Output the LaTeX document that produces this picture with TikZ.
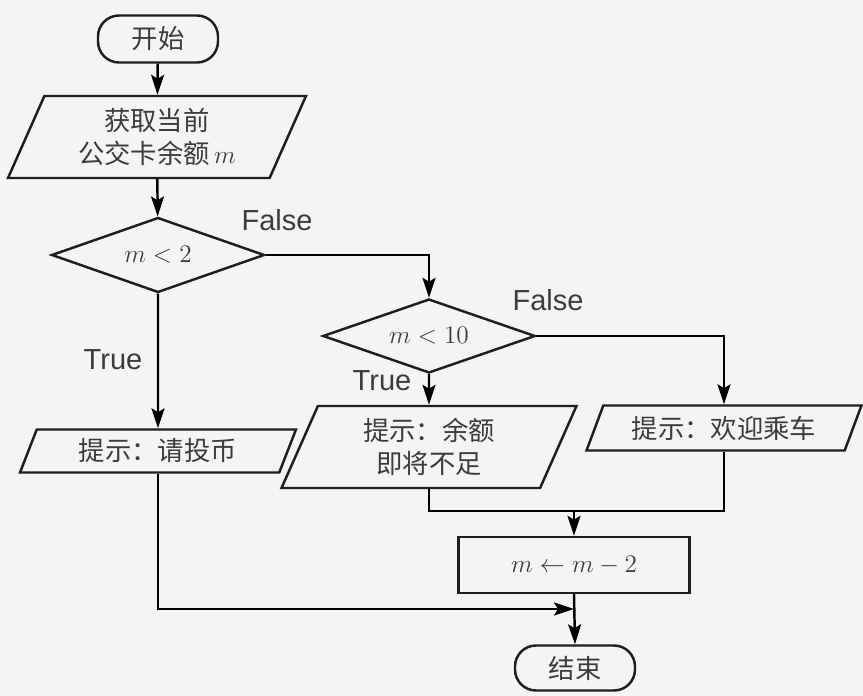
\documentclass[tikz,border=0pt]{standalone}
\usepackage{fontspec}
\newfontfamily\cjk{Noto Sans CJK SC}
\newfontfamily\lat{Liberation Sans}
\usetikzlibrary{shapes.geometric,arrows.meta}

\begin{document}
\begin{tikzpicture}[x=0.02cm, y=-0.02cm, line width=1.4pt,
	arr/.style={-{Stealth[length=4mm, width=2.6mm, inset=0.8mm]}},
	box/.style={draw=ink, text=txt, align=center, inner sep=1pt, font=\cjk\fontsize{15}{18.5}\selectfont},
	term/.style={box, rounded corners=0.42cm, minimum width=2.4cm, minimum height=0.94cm},
	io/.style={box, trapezium, trapezium left angle=59, trapezium right angle=121, trapezium stretches body},
	cond/.style={box, diamond, aspect=2.85, inner sep=0pt, minimum width=4.26cm, minimum height=1.5cm},
	proc/.style={box, minimum width=4.62cm, minimum height=1.12cm},
	lbl/.style={text=txt, font=\lat\fontsize{16.5}{20}\selectfont}]
	\definecolor{bgcol}{RGB}{243, 244, 246}
	\definecolor{ink}{RGB}{30, 30, 30}
	\definecolor{txt}{RGB}{60, 60, 60}

	% background
	\fill[bgcol] (0, 0) rectangle (863, 696);
	\useasboundingbox (0, 0) rectangle (863, 696);

	% diagram
	\node[term] (start) at (158, 39) {开始};
	\node[io, minimum width=5.96cm, minimum height=1.64cm] (input) at (157, 137) {获取当前\\公交卡余额\,$m$};
	\node[cond] (lt2) at (158, 255) {$m<2$};
	\node[cond, minimum width=4.25cm, minimum height=1.48cm] (lt10) at (429, 336) {$m<10$};
	\node[io, minimum width=5.52cm, minimum height=0.86cm] (coin) at (158, 451) {提示：请投币};
	\node[io, minimum width=5.9cm, minimum height=1.64cm] (low) at (429, 447) {提示：余额\\即将不足};
	\node[io, minimum width=5.5cm, minimum height=0.9cm] (ok) at (724, 428) {提示：欢迎乘车};
	\node[proc] (pay) at (574, 565) {$m\leftarrow m-2$};
	\node[term, minimum height=0.9cm] (stop) at (575, 668) {结束};

	\coordinate (mrg) at (574, 511);
	\coordinate (jn) at (574, 609);

	\draw[arr] (start) -- (input);
	\draw[arr] (input) -- (lt2);
	\draw[arr] (lt2.east) -| (lt10.north);
	\draw[arr] (lt2.south) -- (coin.north);
	\draw[arr] (lt10.south) -- (low.north);
	\draw[arr] (lt10.east) -| (ok.north);
	\draw (low.south) |- (mrg) -| (ok.south);
	\draw[arr] (mrg) -- (pay.north);
	\draw[arr] (pay.south) -- (stop.north);
	\draw[arr] (coin.south) |- (jn);

	\node[lbl] (f1) at (277, 220) {False};
	\node[lbl] (t1) at (113, 360) {True};
	\node[lbl] (f2) at (548, 300) {False};
	\node[lbl] (t2) at (382, 381) {True};
\end{tikzpicture}
\end{document}
